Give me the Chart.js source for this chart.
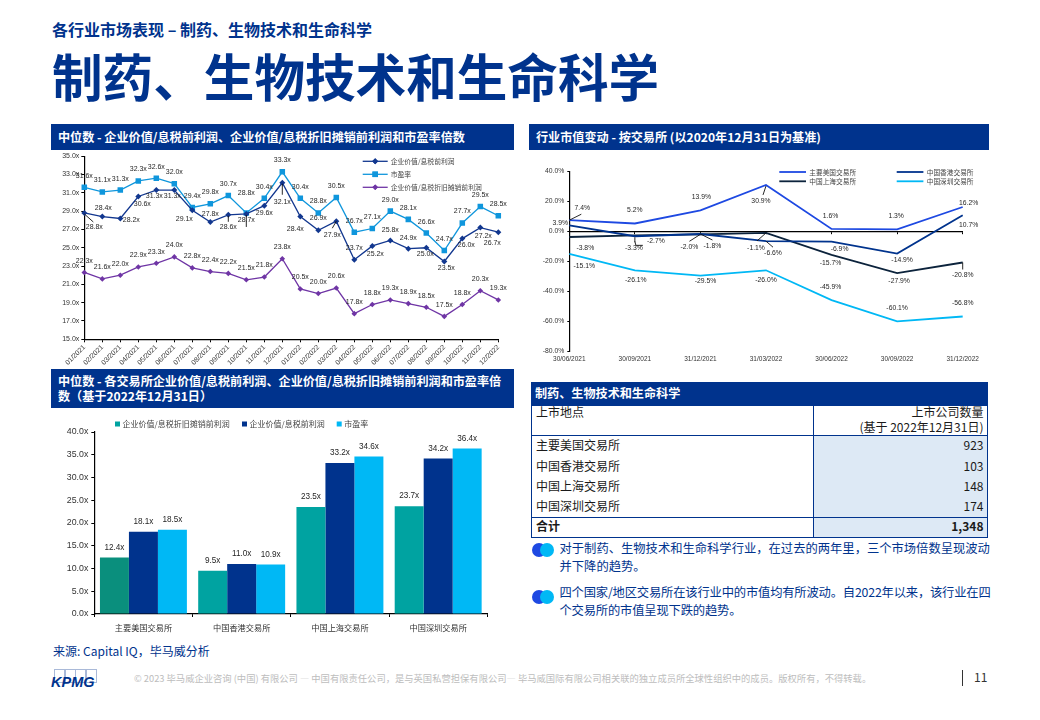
<!DOCTYPE html>
<html lang="zh">
<head>
<meta charset="utf-8">
<title>制药、生物技术和生命科学</title>
<script src="https://cdn.jsdelivr.net/npm/chart.js@4"></script>
<style>
html,body{margin:0;padding:0;background:#fff;}
body{width:1040px;height:720px;position:relative;overflow:hidden;font-family:"Noto Sans CJK SC","Noto Sans",sans-serif;color:#00338D;}
.t{position:absolute;white-space:nowrap;}
.bar{position:absolute;background:#00338D;color:#fff;font-weight:700;font-size:12.12px;}
canvas{position:absolute;display:block;}
.box{position:absolute;box-sizing:border-box;}
.cell{position:absolute;white-space:nowrap;color:#1a1a1a;font-size:12px;line-height:16px;}
.r{text-align:right;}
.dot{position:absolute;width:14px;height:14px;border-radius:50%;}
</style>
</head>
<body>
<div class="t" style="left:52px;top:17px;font-size:16px;line-height:24px;font-weight:700;">各行业市场表现 – 制药、生物技术和生命科学</div>
<div class="t" style="left:52px;top:40px;font-size:50.6px;line-height:70px;font-weight:700;">制药、生物技术和生命科学</div>

<div class="bar" style="left:51px;top:124px;width:463px;height:26px;"><span class="t" style="left:7px;top:4px;line-height:18px;">中位数 - 企业价值/息税前利润、企业价值/息税折旧摊销前利润和市盈率倍数</span></div>
<div class="bar" style="left:529px;top:124px;width:460px;height:26px;"><span class="t" style="left:7px;top:4px;line-height:18px;">行业市值变动 - 按交易所 (以2020年12月31日为基准)</span></div>
<div class="bar" style="left:51px;top:369px;width:463px;height:39px;"><span class="t" style="left:7px;top:5px;line-height:14.5px;">中位数 - 各交易所企业价值/息税前利润、企业价值/息税折旧摊销前利润和市盈率倍<br>数（基于2022年12月31日）</span></div>
<div class="bar" style="left:531px;top:382px;width:456.5px;height:24px;"><span class="t" style="left:4px;top:2px;line-height:18px;">制药、生物技术和生命科学</span></div>

<canvas id="trend" style="left:51px;top:150px;"></canvas>
<canvas id="cap" style="left:529px;top:150px;"></canvas>
<canvas id="bars" style="left:51px;top:408px;"></canvas>

<!-- listing table -->
<div class="box" style="left:813.5px;top:435px;width:174px;height:102px;background:#DDE9F5;"></div>
<div class="box" style="left:531px;top:406px;width:457px;height:132px;border:1px solid #00338D;border-top:none;"></div>
<div class="box" style="left:813px;top:406px;width:1px;height:131px;background:#00338D;"></div>
<div class="box" style="left:531px;top:434.5px;width:457px;height:1px;background:#00338D;"></div>
<div class="box" style="left:531px;top:517px;width:457px;height:1px;background:#00338D;"></div>
<div class="cell" style="left:536px;top:404px;">上市地点</div>
<div class="cell r" style="right:56.5px;top:404px;">上市公司数量</div>
<div class="cell r" style="right:56.5px;top:419px;">(基于 2022年12月31日)</div>
<div id="rows"></div>

<div class="dot" style="left:532px;top:543px;background:#1E49E2;"></div><div class="dot" style="left:540px;top:543px;background:#00B8F5;"></div>
<div class="dot" style="left:532px;top:590px;background:#1E49E2;"></div><div class="dot" style="left:540px;top:590px;background:#00B8F5;"></div>
<div class="t" style="left:559.5px;top:538.5px;font-size:12.3px;line-height:18.3px;">对于制药、生物技术和生命科学行业，在过去的两年里，三个市场倍数呈现波动<br>并下降的趋势。</div>
<div class="t" style="left:559.5px;top:583px;font-size:12.3px;line-height:18.3px;letter-spacing:-0.18px;">四个国家/地区交易所在该行业中的市值均有所波动。自2022年以来，该行业在四<br>个交易所的市值呈现下跌的趋势。</div>

<div class="t" style="left:53px;top:642px;font-size:12px;line-height:18px;">来源: Capital IQ，毕马威分析</div>
<div class="box" style="left:54px;top:668.5px;width:11px;height:14px;border:1px solid #A9B9D8;"></div>
<div class="box" style="left:64.5px;top:668.5px;width:11px;height:14px;border:1px solid #A9B9D8;"></div>
<div class="box" style="left:75px;top:668.5px;width:11px;height:14px;border:1px solid #A9B9D8;"></div>
<div class="box" style="left:85.5px;top:668.5px;width:11px;height:14px;border:1px solid #A9B9D8;"></div>
<div class="t" style="left:51px;top:673px;font:italic 700 14.5px/18px 'Liberation Sans',sans-serif;">KPMG</div>
<div class="t" style="left:134px;top:670px;font-size:9.31px;line-height:16px;color:#BDBDBD;">© 2023 毕马威企业咨询 (中国) 有限公司 — 中国有限责任公司，是与英国私营担保有限公司— 毕马威国际有限公司相关联的独立成员所全球性组织中的成员。版权所有，不得转载。</div>
<div class="box" style="left:962px;top:670px;width:1px;height:16px;background:#333;"></div>
<div class="t" style="left:974px;top:668px;font-size:12px;line-height:18px;color:#333;">11</div>

<script>
// ---------- data ----------
const months = ['01/2021','02/2021','03/2021','04/2021','05/2021','06/2021','07/2021','08/2021','09/2021','10/2021','11/2021','12/2021','01/2022','02/2022','03/2022','04/2022','05/2022','06/2022','07/2022','08/2022','09/2022','10/2022','11/2022','12/2022'];
const evEbit   = [28.8,28.4,28.2,30.6,31.3,31.3,29.1,27.8,28.6,28.7,29.6,32.1,28.4,26.9,27.9,23.7,25.2,25.8,24.9,25.0,23.5,26.0,27.2,26.7];
const peRatio  = [31.6,31.1,31.3,32.3,32.6,32.0,29.4,29.8,30.7,28.8,30.4,33.3,30.4,28.8,30.5,26.7,27.1,29.0,28.1,26.6,24.7,27.7,29.5,28.5];
const evEbitda = [22.3,21.6,22.0,22.9,23.3,24.0,22.8,22.4,22.2,21.5,21.8,23.8,20.5,20.0,20.6,17.8,18.8,19.3,18.9,18.5,17.5,18.8,20.3,19.3];

const quarters = ['30/06/2021','30/09/2021','31/12/2021','31/03/2022','30/06/2022','30/09/2022','31/12/2022'];
const usCap = [7.4,5.2,13.9,30.9,1.6,1.3,16.2];
const hkCap = [3.9,-3.3,-1.8,-6.6,-6.9,-14.9,10.7];
const shCap = [-3.8,-2.7,-2.0,-1.1,-15.7,-27.9,-20.8];
const szCap = [-15.1,-26.1,-29.5,-26.0,-45.9,-60.1,-56.8];

const exchanges = ['主要美国交易所','中国香港交易所','中国上海交易所','中国深圳交易所'];
const barEbitda = [12.4,9.5,23.5,23.7];
const barEbit   = [18.1,11.0,33.2,34.2];
const barPe     = [18.5,10.9,34.6,36.4];

const listingNames  = ['主要美国交易所','中国香港交易所','中国上海交易所','中国深圳交易所'];
const listingCounts = ['923','103','148','174'];
const listingTotal  = '1,348';

const nameEbit = '企业价值/息税前利润', namePe = '市盈率', nameEbitda = '企业价值/息税折旧摊销前利润';

// ---------- label layout (pixel shift from each point) ----------
const shiftEbit = [[10,14],[1,-9],[11,2],[4,8],[-2,6],[-2,6],[-8,9],[0,-8],[0,12],[0,6],[0,7],[0,19],[-5,12],[0,-12],[-4,14],[0,-12],[3,8],[0,-10],[0,-11],[-1,6],[2,7],[4,6],[3,8],[-6,11]];
const shiftPe = months.map((m,i)=> i===9 ? [0,-20] : [0,-11.5]);
const shiftEbitda = months.map(()=>[0,-11.5]);
const leadTrend = [[0,0,0,1,9,9],[0,8,0,1,0,7],[0,11,0,1,0,12],[0,14,0,0,-4,7],[1,9,0,2,0,14]];

const shiftUs = [[13,-12],[0,-13],[1,-13],[-5,16],[-1,-13],[-1,-13],[6,-4]];
const shiftHk = [[-9,-2],[-1,12],[12,12],[7,12],[8,7],[5,6],[6,10]];
const shiftSh = [[16,11],[21,6],[-11,13],[-10,15],[-1,8],[2,8],[0,13]];
const shiftSz = [[15,12],[1,10],[5,6],[0,10],[-1,-13],[0,-13],[0,-13]];
const leadCap = [[0,0,0,0,12,-6],[0,3,0,1,-3,10],[1,1,0,1,0,6],[1,2,0,0,12,6],[1,3,0,0,7,6],[2,1,0,6,1,10],[2,1,1,10,8,10],[2,2,0,0,-11,7],[2,3,0,0,-9,8],[2,6,0,0,0,7]];

const shiftBar = exchanges.map(()=>[0,-10]);

// ---------- table rows ----------
const rows = document.getElementById('rows');
const rowTop = [437,457.5,478,498];
listingNames.forEach((n,i)=>{
  rows.insertAdjacentHTML('beforeend',`<div class="cell" style="left:536px;top:${rowTop[i]}px;">${n}</div><div class="cell r" style="right:56.5px;top:${rowTop[i]}px;">${listingCounts[i]}</div>`);
});
rows.insertAdjacentHTML('beforeend',`<div class="cell" style="left:536px;top:518px;font-weight:700;">合计</div><div class="cell r" style="right:56.5px;top:518px;font-weight:700;">${listingTotal}</div>`);

// ---------- plugins ----------
const ARIAL = "'Liberation Sans',Arial,sans-serif";
const CJK = "'Noto Sans CJK SC','Liberation Sans',sans-serif";

const notes = {
  id:'notes',
  afterDatasetsDraw(chart,args,opt){
    const c = chart.ctx;
    c.save();
    (opt.leaders||[]).forEach(([ds,i,x1,y1,x2,y2])=>{
      const p = chart.getDatasetMeta(ds).data[i];
      c.strokeStyle='#111'; c.lineWidth=0.9;
      c.beginPath(); c.moveTo(p.x+x1,p.y+y1); c.lineTo(p.x+x2,p.y+y2); c.stroke();
    });
    c.font = `${opt.size}px ${ARIAL}`;
    c.fillStyle = '#262626';
    c.textAlign='center'; c.textBaseline='middle';
    chart.data.datasets.forEach((d,k)=>{
      chart.getDatasetMeta(k).data.forEach((p,i)=>{
        const s = opt.shifts[k][i];
        c.fillText(d.data[i].toFixed(1)+opt.unit, p.x+s[0], p.y+s[1]);
      });
    });
    c.restore();
  }
};

const keyBox = {
  id:'keyBox',
  afterDraw(chart,args,opt){
    const c = chart.ctx;
    c.save();
    c.textBaseline='middle'; c.textAlign='left';
    c.font = `${opt.size}px ${CJK}`;
    opt.items.forEach(it=>{
      const d = chart.data.datasets[it.ds];
      c.fillStyle = c.strokeStyle = d.borderColor;
      if(opt.kind==='line'){
        c.lineWidth = d.borderWidth;
        c.beginPath(); c.moveTo(it.x,it.y); c.lineTo(it.x+opt.len,it.y); c.stroke();
        if(d.pointStyle){ c.beginPath(); Chart.helpers.drawPoint(c,{pointStyle:d.pointStyle,radius:d.pointRadius,rotation:0,borderWidth:0},it.x+opt.len/2,it.y); c.fill(); }
      } else {
        c.fillStyle = Array.isArray(d.backgroundColor)? d.backgroundColor[1] : d.backgroundColor;
        c.fillRect(it.x,it.y-2.5,5,5);
      }
      c.fillStyle='#444';
      c.fillText(d.label,it.x+opt.gap,it.y);
    });
    c.restore();
  }
};
Chart.register(notes,keyBox);

const wide = (w)=>(s)=>{s.width=w;};
const tall = (h)=>(s)=>{s.height=h;};
function line(label,data,color,style,radius,width){
  return {label,data,borderColor:color,backgroundColor:color,borderWidth:width,pointStyle:style,pointRadius:radius,pointBorderWidth:0,tension:0,fill:false};
}
function size(id,w,h){const el=document.getElementById(id);el.width=w;el.height=h;el.style.width=w+'px';el.style.height=h+'px';return el;}

// ---------- trend multiples ----------
new Chart(size('trend',463,219),{
  type:'line',
  data:{labels:months,datasets:[
    line(nameEbit,evEbit,'#12378F','rectRot',3,1.3),
    line(namePe,peRatio,'#0F96DC','rect',3.9,1.3),
    line(nameEbitda,evEbitda,'#6F35A5','rectRot',2.8,1.3)
  ]},
  options:{
    responsive:false,animation:false,
    layout:{padding:{left:0,right:15.7,top:5.3,bottom:0}},
    plugins:{legend:{display:false},tooltip:{enabled:false},
      notes:{size:7,unit:'x',shifts:[shiftEbit,shiftPe,shiftEbitda],leaders:leadTrend},
      keyBox:{kind:'line',size:6.8,len:25,gap:28,items:[{ds:0,x:311.7,y:11.3},{ds:1,x:311.7,y:24.3},{ds:2,x:311.7,y:37.3}]}
    },
    scales:{
      x:{type:'category',offset:false,afterFit:tall(29.7),
        grid:{display:true,drawOnChartArea:false,tickLength:3,color:'#000',lineWidth:1},
        border:{display:true,color:'#000',width:1.2},
        ticks:{autoSkip:false,maxRotation:45,minRotation:45,padding:1,color:'#333',font:{family:ARIAL,size:6.9}}},
      y:{min:15,max:35,afterFit:wide(33.3),
        grid:{drawOnChartArea:false,tickLength:3,color:'#000'},
        border:{display:true,color:'#000',width:1.2},
        ticks:{stepSize:2,padding:2,color:'#333',font:{family:ARIAL,size:7},callback:v=>v.toFixed(1)+'x'}}
    }
  }
});

// ---------- market cap change ----------
new Chart(size('cap',460,219),{
  type:'line',
  data:{labels:quarters,datasets:[
    line('主要美国交易所',usCap,'#1E49E2',false,0,1.8),
    line('中国香港交易所',hkCap,'#00338D',false,0,1.8),
    line('中国上海交易所',shCap,'#0C233C',false,0,1.8),
    line('中国深圳交易所',szCap,'#00B8F5',false,0,1.8)
  ]},
  options:{
    responsive:false,animation:false,
    layout:{padding:{left:0,right:26.3,top:21.3,bottom:0}},
    plugins:{legend:{display:false},tooltip:{enabled:false},
      notes:{size:6.8,unit:'%',shifts:[shiftUs,shiftHk,shiftSh,shiftSz],leaders:leadCap},
      keyBox:{kind:'line',size:6.7,len:26.7,gap:30,items:[{ds:0,x:250.3,y:22},{ds:1,x:367.7,y:22},{ds:2,x:250.3,y:31.3},{ds:3,x:367.7,y:31.3}]}
    },
    scales:{
      x:{type:'category',offset:false,position:'bottom',afterFit:tall(17.7),
        grid:{display:false,drawTicks:false},border:{display:false},
        ticks:{autoSkip:false,maxRotation:0,minRotation:0,padding:4,color:'#333',font:{family:ARIAL,size:6.5}}},
      zero:{type:'category',labels:quarters,axis:'x',offset:false,position:{y:0},
        grid:{drawOnChartArea:false,tickLength:2,color:'#000'},
        border:{display:true,color:'#000',width:1.2},
        ticks:{display:false}},
      y:{min:-80,max:40,afterFit:wide(40.3),
        grid:{drawOnChartArea:false,tickLength:2,color:'#000'},
        border:{display:true,color:'#000',width:1.2},
        ticks:{stepSize:20,padding:3,color:'#333',font:{family:ARIAL,size:6.8},callback:v=>v.toFixed(1)+'%'}}
    }
  }
});

// ---------- bars by exchange ----------
new Chart(size('bars',463,232),{
  type:'bar',
  data:{labels:exchanges,datasets:[
    {label:nameEbitda,data:barEbitda,backgroundColor:['#0A8F7D','#00A3A1','#00A3A1','#00A3A1']},
    {label:nameEbit,data:barEbit,backgroundColor:'#00338D'},
    {label:namePe,data:barPe,backgroundColor:'#00B8F5'}
  ].map(d=>Object.assign(d,{borderColor:'#00338D',borderWidth:0,barPercentage:1,categoryPercentage:0.885}))},
  options:{
    responsive:false,animation:false,
    layout:{padding:{left:0,right:26.7,top:24,bottom:0}},
    plugins:{legend:{display:false},tooltip:{enabled:false},
      notes:{size:8.2,unit:'x',shifts:[shiftBar,shiftBar,shiftBar]},
      keyBox:{kind:'rect',size:8,gap:7.5,items:[{ds:0,x:64,y:16},{ds:1,x:191,y:16},{ds:2,x:285.7,y:16}]}
    },
    scales:{
      x:{afterFit:tall(26),
        grid:{drawOnChartArea:false,tickLength:3,color:'#000'},
        border:{display:true,color:'#000',width:1.2},
        ticks:{padding:6,color:'#333',font:{family:CJK,size:8.2}}},
      y:{min:0,max:40,afterFit:wide(43.3),
        grid:{drawOnChartArea:false,tickLength:3,color:'#000'},
        border:{display:true,color:'#000',width:1.2},
        ticks:{stepSize:5,padding:3,color:'#333',font:{family:ARIAL,size:8.8},callback:v=>v.toFixed(1)+'x'}}
    }
  }
});
</script>
</body>
</html>
